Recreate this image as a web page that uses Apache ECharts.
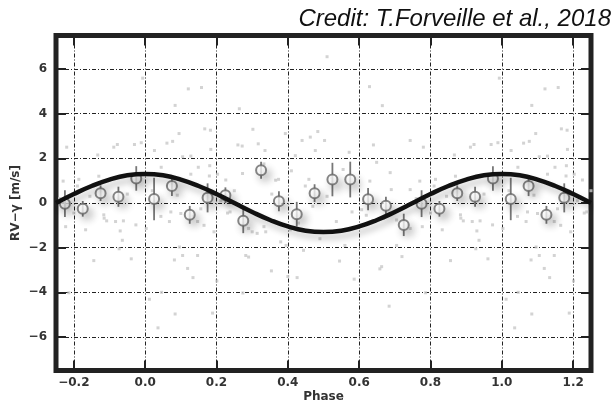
<!DOCTYPE html>
<html><head><meta charset="utf-8">
<script src="https://cdn.jsdelivr.net/npm/echarts@6/dist/echarts.min.js"></script>
<style>html,body{margin:0;padding:0;background:#fff}#c{width:616px;height:406px}</style>
</head><body><div id="c"></div>
<script>
// Tick labels
const xTicks = [-0.2, 0.0, 0.2, 0.4, 0.6, 0.8, 1.0, 1.2];
const yTicks = [-6, -4, -2, 0, 2, 4, 6];

// Model curve
const curvePhase = [-0.25,-0.2,-0.15,-0.1,-0.05,0,0.05,0.1,0.15,0.2,0.25,0.3,0.35,0.4,0.45,0.5,0.55,0.6,0.65,0.7,0.75,0.8,0.85,0.9,0.95,1.0,1.05,1.1,1.15,1.2,1.25];
const curveRV    = [0.0,0.4,0.76,1.05,1.24,1.3,1.24,1.05,0.76,0.4,0.0,-0.4,-0.76,-1.05,-1.24,-1.3,-1.24,-1.05,-0.76,-0.4,0.0,0.4,0.76,1.05,1.24,1.3,1.24,1.05,0.76,0.4,0.0];

// Binned points (one cycle)
const binPhase = [0.025,0.075,0.125,0.175,0.225,0.275,0.325,0.375,0.425,0.475,0.525,0.575,0.625,0.675,0.725,0.775,0.825,0.875,0.925,0.975];
const binRV    = [0.18,0.76,-0.53,0.23,0.35,-0.80,1.47,0.08,-0.50,0.44,1.05,1.05,0.17,-0.12,-0.98,-0.03,-0.26,0.44,0.28,1.10];
const binErr   = [0.95,0.45,0.40,0.65,0.35,0.55,0.38,0.45,0.55,0.40,0.75,0.80,0.50,0.40,0.50,0.60,0.35,0.35,0.45,0.55];

// Raw measurements (one cycle)
const rawPhase = [0.510,0.993,0.121,0.158,0.084,0.264,0.629,0.665,0.167,0.183,0.095,0.302,0.393,0.484,
 0.119,0.134,0.201,0.354,0.400,0.426,0.586,0.663,0.786,0.046,0.274,0.012,0.084,0.036,0.189,0.684,
 0.026,0.061,0.077,0.105,0.003,0.044,0.072,0.100,0.068,0.096,0.082,0.105,0.045,0.020,0.090,
 0.128,0.149,0.128,0.180,0.181,0.184,0.147,0.156,0.193,0.147,0.135,0.165,
 0.203,0.226,0.231,0.238,0.260,0.272,0.273,0.282,0.290,0.290,0.212,0.250,
 0.300,0.314,0.338,0.333,0.317,0.336,0.333,0.366,0.374,0.380,0.395,0.355,
 0.421,0.410,0.449,0.444,0.459,0.440,0.463,0.477,0.407,0.470,0.430,0.490,
 0.503,0.522,0.536,0.572,0.555,0.510,0.560,0.580,0.545,
 0.607,0.630,0.649,0.687,0.668,0.658,0.620,0.640,0.690,
 0.705,0.705,0.743,0.743,0.743,0.780,0.770,0.720,0.760,0.777,
 0.800,0.810,0.814,0.867,0.884,0.833,0.856,0.845,
 0.912,0.922,0.970,0.989,0.885,0.892,0.917,0.939,0.930,0.936,0.974,0.961,0.927,0.950,0.870];
const rawRV = [6.55,5.59,5.11,5.17,4.37,4.22,5.21,4.36,3.32,3.26,3.11,3.30,3.11,3.20,
 -2.93,-3.34,-3.49,-3.04,-3.29,-3.34,-3.41,-2.85,-4.02,-4.00,-4.03,-4.31,-4.97,-5.59,-4.93,-4.62,
 2.35,2.68,2.76,2.07,-1.14,-0.60,-0.40,-0.47,-0.83,-1.97,-2.55,-2.35,1.60,0.55,0.35,
 2.10,1.60,1.29,1.21,1.67,2.40,-0.83,-0.26,-1.29,-2.35,-0.60,-1.00,
 1.29,1.03,-0.45,-0.40,2.60,2.55,1.32,-2.35,-2.42,-1.14,0.10,0.55,
 -1.29,-1.36,-1.29,-1.06,2.65,2.35,1.75,1.02,1.06,-1.74,-1.90,0.40,
 2.12,1.44,0.76,-2.12,1.06,2.80,2.95,2.35,-1.20,-0.15,-0.90,-1.60,
 2.80,1.14,-0.83,2.27,1.50,0.30,-1.90,-0.40,-2.60,
 -0.30,0.98,1.82,1.36,-0.68,-2.95,-0.55,2.60,0.60,
 -0.76,-1.90,2.80,0.60,-1.14,2.50,0.98,-2.40,0.20,-1.06,
 -0.45,0.76,1.06,2.15,-0.53,-1.20,-2.58,0.30,
 2.50,2.62,2.62,2.70,-0.68,-0.80,-0.83,-0.80,-1.25,-1.67,-0.98,-2.50,-2.05,0.40,1.20];

function fold(ph, val, lo, hi, extra) {
  const out = [];
  for (let i = 0; i < ph.length; i++) {
    for (const k of [-1, 0, 1]) {
      const q = ph[i] + k;
      if (q >= lo && q <= hi) {
        const row = [q, val[i]];
        if (extra) row.push(extra[i]);
        out.push(row);
      }
    }
  }
  return out;
}
const rawData = fold(rawPhase, rawRV, -0.25, 1.25);
const binData = fold(binPhase, binRV, -0.25, 1.2, binErr);
const curveData = curvePhase.map((p, i) => [p, curveRV[i]]);

const fontF = 'DejaVu Sans';
function xFmt(v) {
  const r = Math.round(v * 10) / 10;
  if (Math.abs(v - r) > 1e-6 || !xTicks.some(t => Math.abs(t - r) < 1e-9)) return '';
  return r.toFixed(1).replace('-', '\u2212');
}
function yFmt(v) {
  const r = Math.round(v);
  if (Math.abs(v - r) > 1e-6 || !yTicks.includes(r)) return '';
  return String(r).replace('-', '\u2212');
}
const tickStyle = { show: true, inside: true, length: 10, lineStyle: { color: '#222', width: 2 } };
const splitStyle = { show: true, lineStyle: { color: '#222', width: 1, type: [4, 2, 1, 2] } };
const noLine = { show: false, onZero: false };

const chart = echarts.init(document.getElementById('c'), null, { renderer: 'canvas' });
chart.setOption({
  animation: false,
  backgroundColor: '#fff',
  title: {
    text: 'Credit: T.Forveille et al., 2018',
    right: 0, top: 2,
    textStyle: { fontFamily: 'Liberation Sans', fontStyle: 'italic', fontWeight: 'normal', fontSize: 24, color: '#111' }
  },
  grid: { left: 56, top: 35.5, right: 25, bottom: 35.5, outerBoundsMode: 'none', containLabel: false,
    show: true, borderWidth: 5, borderColor: '#222', backgroundColor: 'transparent' },
  xAxis: [{
    type: 'value', min: -0.25, max: 1.25, splitNumber: 7, minInterval: 0.2, maxInterval: 0.2,
    position: 'bottom',
    name: 'Phase', nameLocation: 'middle', nameGap: 20, nameMoveOverlap: false,
    nameTextStyle: { fontFamily: fontF, fontWeight: 'bold', fontSize: 12, color: '#333' },
    axisLine: noLine, axisTick: tickStyle, splitLine: splitStyle,
    axisLabel: { formatter: xFmt, margin: 6, fontFamily: fontF, fontWeight: 'bold', fontSize: 12, color: '#333', showMinLabel: false, showMaxLabel: false }
  }, {
    type: 'value', min: -0.25, max: 1.25, splitNumber: 7, minInterval: 0.2, maxInterval: 0.2,
    position: 'top', axisLine: noLine, axisTick: tickStyle, splitLine: { show: false }, axisLabel: { show: false }
  }],
  yAxis: [{
    type: 'value', min: -7.5, max: 7.5, splitNumber: 7, minInterval: 2, maxInterval: 2,
    position: 'left',
    name: 'RV\u2212\u03b3 [m/s]', nameLocation: 'middle', nameGap: 34, nameRotate: 90, nameMoveOverlap: false,
    nameTextStyle: { fontFamily: fontF, fontWeight: 'bold', fontSize: 12, color: '#333' },
    axisLine: noLine, axisTick: tickStyle, splitLine: splitStyle,
    axisLabel: { formatter: yFmt, margin: 9, fontFamily: fontF, fontWeight: 'bold', fontSize: 12, color: '#333', showMinLabel: false, showMaxLabel: false }
  }, {
    type: 'value', min: -7.5, max: 7.5, splitNumber: 7, minInterval: 2, maxInterval: 2,
    position: 'right', axisLine: noLine, axisTick: tickStyle, splitLine: { show: false }, axisLabel: { show: false }
  }],
  series: [{
    type: 'scatter', data: rawData, symbol: 'rect', symbolSize: 3, z: 1, silent: true,
    itemStyle: { color: '#c8c8c8' }
  }, {
    type: 'custom', data: binData, z: 2, silent: true,
    encode: { x: 0, y: 1 },
    renderItem: function (params, api) {
      const x = api.value(0), y = api.value(1), e = api.value(2);
      const p1 = api.coord([x, y - e]), p2 = api.coord([x, y + e]);
      return { type: 'line', shape: { x1: p1[0], y1: p1[1], x2: p2[0], y2: p2[1] },
        style: { stroke: '#777', lineWidth: 1.8 } };
    }
  }, {
    type: 'scatter', data: binData.map(d => [d[0], d[1]]), symbol: 'circle', symbolSize: 10, z: 3, silent: true,
    itemStyle: { color: '#fff', borderColor: '#666', borderWidth: 2, shadowBlur: 8, shadowColor: 'rgba(0,0,0,0.3)', shadowOffsetX: 4, shadowOffsetY: 5 }
  }, {
    type: 'line', data: curveData, smooth: 0.5, showSymbol: false, z: 4, silent: true,
    lineStyle: { color: '#111', width: 4.5, shadowBlur: 6, shadowColor: 'rgba(0,0,0,0.22)', shadowOffsetX: 3, shadowOffsetY: 5 }
  }]
});
</script>
</body></html>
